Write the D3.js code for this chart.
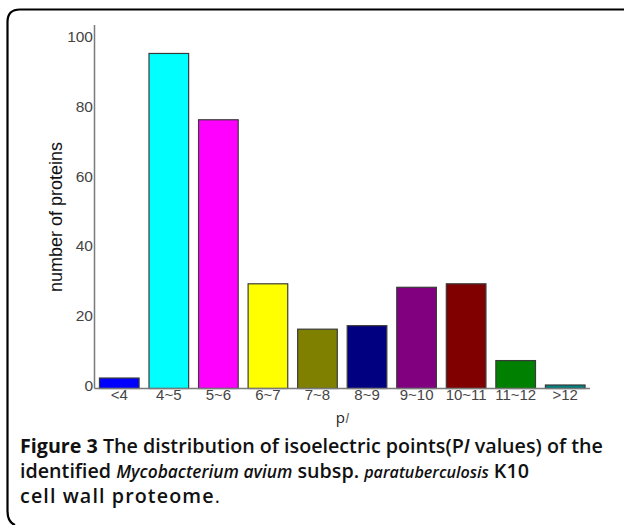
<!DOCTYPE html>
<html><head><meta charset="utf-8">
<script src="https://cdn.jsdelivr.net/npm/d3@7"></script>
<style>
html,body{margin:0;padding:0;background:#fff;}
svg{display:block;}
</style>
</head><body>
<svg id="chart" width="624" height="525"></svg>
<script>
const categories = ["<4","4~5","5~6","6~7","7~8","8~9","9~10","10~11","11~12",">12"];
const values = [3, 96, 77, 30, 17, 18, 29, 30, 8, 1];
const barColors = ["#0000ff","#00ffff","#ff00ff","#ffff00","#808000","#000080","#800080","#800000","#008000","#008080"];
const yTicks = [0, 20, 40, 60, 80, 100];

const svg = d3.select("#chart");
const tickFont = "Liberation Sans Narrow, Arial Narrow, Liberation Sans, sans-serif";

// frame (top + left, rounded corners)
svg.append("path")
  .attr("d","M624,9.5 H20 Q7.5,9.5 7.5,22 V511 Q7.5,522 15,525")
  .attr("fill","none").attr("stroke","#000").attr("stroke-width",2.2);

const x = d3.scaleBand().domain(categories).range([94.5, 590]).paddingInner(0.2).paddingOuter(0.1);
const y = d3.scaleLinear().domain([0, 100]).range([388.5, 39.5]);

// bars
svg.append("g").selectAll("rect").data(values).join("rect")
  .attr("x",(d,i)=>x(categories[i]))
  .attr("y",d=>y(d))
  .attr("width",x.bandwidth())
  .attr("height",d=>y(0)-y(d))
  .attr("fill",(d,i)=>barColors[i])
  .attr("stroke","#3a3a3a").attr("stroke-width",1.2);

// y axis
const yAxis = svg.append("g").attr("transform","translate(94.5,0)")
  .call(d3.axisLeft(y).tickValues(yTicks).tickSize(0).tickPadding(1.5));
yAxis.select(".domain").remove();
yAxis.append("line").attr("x1",0).attr("x2",0).attr("y1",25).attr("y2",y(0))
  .attr("stroke","#7a7a7a").attr("stroke-width",1.5);
yAxis.selectAll(".tick text").attr("font-family",tickFont)
  .attr("font-size",15.5).attr("fill","#444").attr("y",-3);

// x axis
const xAxis = svg.append("g").attr("transform",`translate(0,${y(0)})`)
  .call(d3.axisBottom(x).tickSize(0).tickPadding(1));
xAxis.select(".domain").remove();
xAxis.append("line").attr("x1",94.5).attr("x2",590).attr("y1",0).attr("y2",0)
  .attr("stroke","#7a7a7a").attr("stroke-width",1.5);
xAxis.selectAll(".tick text").attr("font-family",tickFont)
  .attr("font-size",15).attr("fill","#444");

// y title
svg.append("text")
  .attr("transform","translate(62,217) rotate(-90)")
  .attr("text-anchor","middle")
  .attr("font-family","Liberation Sans, Arial, sans-serif")
  .attr("font-size",18).attr("fill","#111")
  .text("number of proteins");

// x title
const xt = svg.append("text").attr("x",342.5).attr("y",423).attr("text-anchor","middle")
  .attr("font-family","Open Sans, sans-serif").attr("font-size",15).attr("fill","#222");
xt.append("tspan").text("p");
xt.append("tspan").attr("font-style","italic").attr("fill","#666").text("I");

// caption
const capFont = "Open Sans, sans-serif";
const capLines = [
  {y:453, parts:[{t:"Figure 3",w:700},{t:" The distribution of isoelectric points(P"},{t:"I",i:true},{t:" values) of the"}]},
  {y:478, parts:[{t:"identified "},{t:"Mycobacterium avium",i:true,s:0.88},{t:" subsp. "},{t:"paratuberculosis",i:true,s:0.82},{t:" K10"}]},
  {y:503, parts:[{t:"cell wall proteome",ls:1.1},{t:".",w:400}]}
];
function measure(p, size, ls){
  const t = svg.append("text").attr("font-family",capFont).attr("font-size",size)
    .attr("font-weight",p.w||600).attr("font-style",p.i?"italic":"normal")
    .attr("letter-spacing",ls||0)
    .style("white-space","pre").text(p.t);
  const w = t.node().getComputedTextLength();
  t.remove();
  return w;
}
const capSize = 19*583/d3.sum(capLines[0].parts, p=>measure(p,19));
capLines.forEach(line=>{
  const t = svg.append("text").attr("y",line.y)
    .attr("font-family",capFont).attr("font-size",capSize).attr("fill","#111")
    .style("white-space","pre");
  let cx = 20;
  line.parts.forEach(p=>{
    const fs = capSize*(p.s||1);
    const ls = p.ls||0;
    const w = measure(p,fs,ls);
    t.append("tspan").attr("x",cx).attr("font-size",fs).attr("letter-spacing",ls)
      .attr("font-weight",p.w||600).attr("font-style",p.i?"italic":"normal").text(p.t);
    cx += w;
  });
});
</script>
</body></html>
